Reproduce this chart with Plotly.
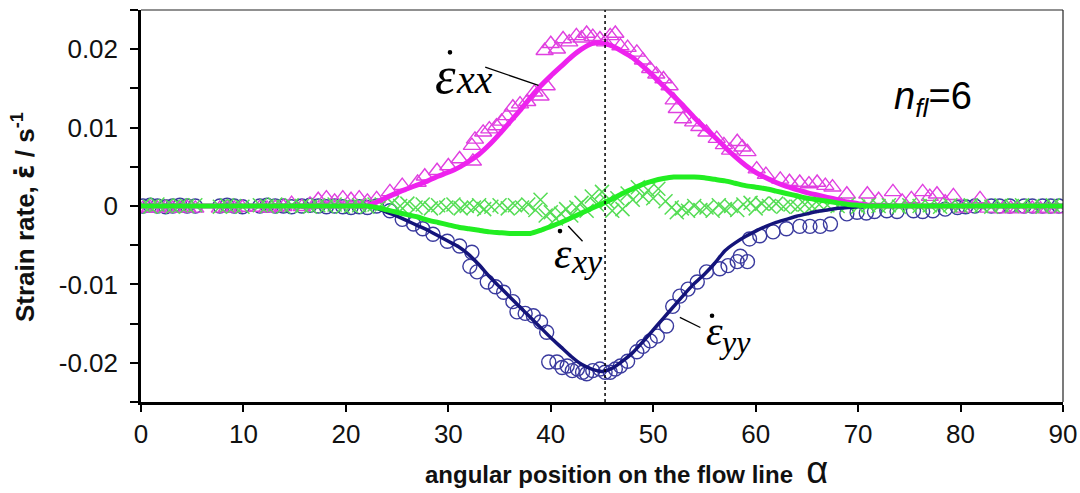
import plotly.graph_objects as go

# ---------------- data ----------------
# measured points (triangles) - strain rate xx
alpha_xx = [0.2, 0.9, 1.6, 2.4, 3.1, 3.8, 4.5, 5.3, 7.7, 8.4, 9.1, 9.9, 11.6, 12.3, 13.1, 13.9,
            14.7, 15.7, 16.5, 17.3, 18.1, 18.9, 19.7, 20.5, 21.3, 22.1,
            23.0, 24.3, 25.5, 27.0, 27.7, 28.9, 30.0, 31.1, 32.3, 32.4, 32.6, 33.4, 34.0, 34.7,
            35.2, 35.7, 36.3, 37.0, 37.7, 38.4, 39.0, 39.6, 39.4, 40.0, 40.6, 41.2, 41.8, 42.5,
            43.0, 43.5, 44.1, 44.8, 45.3, 45.8, 46.3, 46.8, 47.5, 48.4, 49.0, 49.7, 50.3, 51.0,
            51.6, 52.0, 52.3, 52.9, 53.9, 54.5, 55.2, 56.2, 56.9, 57.5, 58.2, 58.7, 59.2, 60.1,
            61.0, 62.4, 63.3, 64.3, 65.2, 66.0, 66.8, 67.5, 68.9, 70.9, 72.0, 73.4, 74.3, 75.2,
            76.3, 77.0, 77.7, 78.5, 79.3, 80.2, 81.9, 82.7, 84.1, 84.9, 85.6, 87.0, 87.8, 88.6, 89.4]
exx_meas = [-0.0003, -0.0002, -0.0003, -0.0002, -0.0003, -0.0003, -0.0002, -0.0003, -0.0003, -0.0002,
            -0.0003, -0.0002, -0.0002, -0.0003, -0.0002, -0.0001, 0.0003, -0.0001, 0.0002, 0.0008,
            0.0010, 0.0006, 0.0010, 0.0008, 0.0010, 0.0006,
            0.0009, 0.0018, 0.0026, 0.0030, 0.0038, 0.0045, 0.0051, 0.0060, 0.0077, 0.0057, 0.0085,
            0.0094, 0.0098, 0.0102, 0.0108, 0.0115, 0.0126, 0.0130, 0.0133, 0.0145, 0.0140, 0.0153,
            0.0198, 0.0207, 0.0200, 0.0213, 0.0209, 0.0217, 0.0214, 0.0220, 0.0216, 0.0213, 0.0209,
            0.0217, 0.0220, 0.0204, 0.0202, 0.0196, 0.0186, 0.0175, 0.0168, 0.0162, 0.0153, 0.0135,
            0.0124, 0.0111, 0.0107, 0.0101, 0.0094, 0.0086, 0.0078, 0.0071, 0.0082, 0.0075, 0.0069,
            0.0047, 0.0040, 0.0034, 0.0031, 0.0030, 0.0028, 0.0030, 0.0026, 0.0024, 0.0015, 0.0015,
            0.0008, 0.0018, 0.0006, 0.0009, 0.0018, 0.0012, 0.0015, 0.0005, 0.0013, -0.0003, 0.0009,
            -0.0003, -0.0004, -0.0003, -0.0004, -0.0003, -0.0004, -0.0003, -0.0004]

# measured points (circles) - strain rate yy
alpha_yy = [0.2, 0.9, 1.6, 2.4, 3.1, 3.8, 4.5, 5.3, 7.7, 8.4, 9.1, 9.9, 11.6, 12.3, 13.1, 13.9,
            14.7, 15.7, 16.5, 17.3, 18.1, 18.9, 19.7, 20.5, 21.3, 22.1,
            23.0, 24.3, 25.5, 26.6, 27.5, 28.5, 29.9, 31.1, 32.3, 32.1, 32.8, 33.8, 34.6, 35.4,
            36.3, 36.7, 37.5, 38.3, 39.0, 39.6, 39.8, 40.6, 41.1, 41.6, 42.1, 42.6, 43.1, 43.5,
            44.1, 44.8, 45.3, 45.8, 46.3, 46.8, 47.5, 48.4, 49.0, 49.7, 50.4, 51.3, 51.9, 52.6,
            53.4, 54.3, 55.2, 56.5, 57.3, 58.2, 58.5, 59.2, 59.4, 60.4, 61.7, 63.0, 64.3, 65.3,
            66.3, 67.3, 68.9, 69.9, 70.8, 71.6, 72.8, 73.8, 75.4, 76.3, 77.3, 78.5, 79.7, 80.5,
            81.4, 83.0, 83.8, 84.8, 86.2, 87.0, 88.0, 88.8, 89.6]
eyy_meas = [0.0000, 0.0001, 0.0000, -0.0001, 0.0000, 0.0001, 0.0000, 0.0000, 0.0000, 0.0001,
            0.0000, -0.0001, 0.0000, 0.0001, 0.0000, 0.0000, -0.0001, 0.0000, 0.0001, 0.0000,
            -0.0001, 0.0000, -0.0001, -0.0002, -0.0001, -0.0002,
            0.0000, -0.0006, -0.0017, -0.0023, -0.0029, -0.0036, -0.0045, -0.0051, -0.0059, -0.0077,
            -0.0084, -0.0097, -0.0103, -0.0110, -0.0122, -0.0135, -0.0137, -0.0140, -0.0148, -0.0161,
            -0.0199, -0.0199, -0.0206, -0.0204, -0.0210, -0.0208, -0.0212, -0.0214, -0.0210, -0.0208,
            -0.0212, -0.0212, -0.0208, -0.0204, -0.0198, -0.0186, -0.0179, -0.0172, -0.0166, -0.0153,
            -0.0128, -0.0115, -0.0106, -0.0097, -0.0084, -0.0080, -0.0076, -0.0071, -0.0064, -0.0071,
            -0.0042, -0.0038, -0.0033, -0.0029, -0.0026, -0.0026, -0.0026, -0.0023, -0.0010, -0.0008,
            -0.0009, -0.0007, -0.0006, -0.0007, -0.0006, -0.0007, -0.0006, -0.0004, -0.0002, -0.0001,
            0.0000, 0.0000, 0.0000, 0.0000, 0.0000, 0.0000, 0.0000, 0.0000, 0.0000]

# measured points (crosses) - strain rate xy
alpha_xy = [0.2, 0.9, 1.6, 2.4, 3.1, 3.8, 4.5, 5.3, 7.7, 8.4, 9.1, 9.9, 11.6, 12.3, 13.1, 13.9,
            14.7, 15.7, 16.5, 17.3, 18.1, 18.9, 19.7, 20.5, 21.3, 22.1, 22.8,
            23.5, 24.5, 25.3, 26.0, 26.8, 27.5, 28.3, 29.0, 29.8, 30.5, 31.2, 31.8, 32.5, 33.0,
            33.5, 34.2, 35.0, 35.8, 36.5, 37.2, 37.8, 38.5, 39.0, 39.5, 40.0, 40.5, 41.0, 41.5,
            42.0, 42.5, 43.0, 43.5, 44.0, 44.5, 45.0, 45.5, 46.0, 46.5, 47.0, 47.5, 48.0, 48.5,
            49.0, 49.5, 50.0, 50.5, 51.2, 51.8, 52.3, 52.8, 53.4, 54.0, 54.6, 55.2, 55.8, 56.4,
            57.0, 57.6, 58.2, 58.8, 59.5, 60.0, 60.6, 61.3, 62.0, 62.7, 63.4, 64.1, 64.8, 65.5,
            66.2, 67.0, 68.0, 69.0, 70.0, 71.0, 72.0, 73.0, 74.0, 75.0, 76.0, 77.0, 78.0, 79.0,
            80.0, 81.0, 82.0, 83.0, 84.0, 85.0, 86.0, 87.0, 88.0, 89.0, 89.8]
exy_meas = [0.0001, -0.0001, 0.0002, 0.0000, -0.0001, 0.0001, 0.0000, 0.0001, -0.0001, 0.0001,
            0.0000, -0.0001, 0.0001, 0.0000, 0.0002, -0.0001, 0.0001, 0.0000, -0.0001, 0.0001,
            0.0000, 0.0002, -0.0001, 0.0000, 0.0001, -0.0001, 0.0002,
            0.0002, 0.0004, 0.0000, 0.0003, -0.0002, 0.0002, -0.0003, 0.0001, -0.0002, 0.0002,
            -0.0003, 0.0000, -0.0002, 0.0001, -0.0004, -0.0001, 0.0001, -0.0003, 0.0001, -0.0002,
            0.0002, -0.0005, 0.0008, -0.0012, -0.0008, -0.0016, -0.0010, -0.0004, -0.0012, -0.0002,
            0.0004, -0.0006, 0.0012, 0.0002, 0.0018, 0.0006, -0.0006, 0.0010, -0.0004, 0.0016,
            0.0008, 0.0024, 0.0012, 0.0020, 0.0010, 0.0022, 0.0006, -0.0002, -0.0008, -0.0003,
            -0.0006, 0.0000, -0.0005, -0.0002, -0.0006, 0.0001, -0.0004, 0.0000, -0.0005, 0.0002,
            0.0004, -0.0003, 0.0003, 0.0000, 0.0003, -0.0001, 0.0002, -0.0001, 0.0002, 0.0000,
            0.0002, 0.0001, 0.0000, 0.0002, -0.0001, 0.0001, 0.0000, 0.0001, -0.0001, 0.0001,
            0.0000, 0.0001, -0.0001, 0.0001, 0.0000, 0.0001, 0.0000, -0.0001, 0.0001, 0.0000,
            0.0001, 0.0000, -0.0001, 0.0001, 0.0000]

# fitted (model) curves, one value per degree 0..90
alpha_fit = list(range(0, 91))
exx_fit = [0.0] * 23 + [0.0005, 0.0011, 0.0017, 0.0022, 0.0027, 0.0032, 0.0038, 0.0043, 0.0049,
                        0.0057, 0.0066, 0.0078, 0.0092, 0.0107, 0.0122, 0.0138, 0.0153, 0.0166,
                        0.0178, 0.0190, 0.0200, 0.0207, 0.0208, 0.0204, 0.0197, 0.0189, 0.0178,
                        0.0166, 0.0153, 0.0140, 0.0127, 0.0113, 0.0100, 0.0088, 0.0075, 0.0063,
                        0.0052, 0.0043, 0.0036, 0.0030, 0.0025, 0.0021, 0.0017, 0.0014, 0.0011,
                        0.0008, 0.0005, 0.0003, 0.0001] + [0.0] * 19
eyy_fit = [0.0] * 23 + [-0.0003, -0.0008, -0.0013, -0.0019, -0.0025, -0.0031, -0.0038, -0.0045,
                        -0.0052, -0.0062, -0.0075, -0.0090, -0.0103, -0.0116, -0.0129, -0.0142,
                        -0.0155, -0.0168, -0.0180, -0.0192, -0.0202, -0.0208, -0.0211, -0.0207,
                        -0.0198, -0.0187, -0.0173, -0.0158, -0.0143, -0.0128, -0.0113, -0.0099,
                        -0.0087, -0.0073, -0.0057, -0.0047, -0.0039, -0.0032, -0.0026, -0.0021,
                        -0.0017, -0.0013, -0.0010, -0.0007, -0.0005, -0.0003, -0.0002, -0.0001] + [0.0] * 20
exy_fit = [0.0] * 23 + [-0.0002, -0.0005, -0.0008, -0.0011, -0.0014, -0.0018, -0.0021, -0.0024,
                        -0.0027, -0.0029, -0.0031, -0.0033, -0.0034, -0.0035, -0.0035, -0.0035,
                        -0.0031, -0.0026, -0.0021, -0.0015, -0.0009, -0.0003, 0.0003, 0.0009,
                        0.0016, 0.0022, 0.0028, 0.0032, 0.0035, 0.0037, 0.0037, 0.0037, 0.0036,
                        0.0034, 0.0032, 0.0029, 0.0026, 0.0024, 0.0022, 0.0019, 0.0016, 0.0013,
                        0.0010, 0.0008, 0.0006, 0.0004, 0.0002, 0.0001] + [0.0] * 20

alpha_sym = 45.3  # symmetry line position
x_ticks = [0, 10, 20, 30, 40, 50, 60, 70, 80, 90]
y_ticks = [-0.02, -0.01, 0, 0.01, 0.02]
y_tick_labels = ["-0.02", "-0.01", "0", "0.01", "0.02"]

# ---------------- figure ----------------
MAG = "#ee22ee"
MAG_M = "#e040e0"
NAVY = "#14147a"
NAVY_M = "#3a3a9e"
GRN = "#22ee22"
GRN_M = "#55dd55"

fig = go.Figure()
fig.add_trace(go.Scatter(x=alpha_yy, y=eyy_meas, mode="markers",
                         marker=dict(symbol="circle-open", size=14, color=NAVY_M, line=dict(width=1.4))))
fig.add_trace(go.Scatter(x=alpha_xx, y=exx_meas, mode="markers",
                         marker=dict(symbol="triangle-up-open", size=15, color=MAG_M, line=dict(width=1.4))))
fig.add_trace(go.Scatter(x=alpha_xy, y=exy_meas, mode="markers",
                         marker=dict(symbol="x-thin-open", size=14, color=GRN_M, line=dict(width=1.5))))
fig.add_trace(go.Scatter(x=alpha_fit, y=eyy_fit, mode="lines",
                         line=dict(color=NAVY, width=3.5, shape="spline", smoothing=0.6)))
fig.add_trace(go.Scatter(x=alpha_fit, y=exx_fit, mode="lines",
                         line=dict(color=MAG, width=5, shape="spline", smoothing=0.6)))
fig.add_trace(go.Scatter(x=alpha_fit, y=exy_fit, mode="lines",
                         line=dict(color=GRN, width=5, shape="spline", smoothing=0.6)))

# symmetry line
fig.add_shape(type="line", xref="x", yref="paper", x0=alpha_sym, x1=alpha_sym, y0=0, y1=1,
              line=dict(color="black", width=1.5, dash="dot"))
# thin top and right frame
fig.add_shape(type="line", xref="paper", yref="paper", x0=0, x1=1, y0=1, y1=1,
              line=dict(color="#222", width=1.2))
fig.add_shape(type="line", xref="paper", yref="paper", x0=1, x1=1, y0=0, y1=1,
              line=dict(color="#222", width=1.2))

# leader lines for labels
leaders = [((33.6, 0.0177), (38.8, 0.0154)),
           ((41.7, -0.00255), (43.1, -0.0045)),
           ((52.6, -0.0142), (54.6, -0.0155))]
for (xa, ya), (xb, yb) in leaders:
    fig.add_shape(type="line", xref="x", yref="y", x0=xa, y0=ya, x1=xb, y1=yb,
                  line=dict(color="black", width=1.3))

SERIF = "Liberation Serif, Times New Roman, serif"
# (epsilon x, epsilon y, eps size, subscript, sub x, sub y, sub size, dot x, dot y)
labels = [(29.77, 0.0167, 52, "xx", 32.6, 0.0161, 40, 30.16, 0.0196),
          (41.2, -0.0060, 44, "xy", 43.5, -0.0071, 34, 40.9, -0.0032),
          (55.94, -0.0160, 42, "yy", 58.0, -0.0174, 32, 55.74, -0.0140)]
for ex, ey, es, sub, sx, sy, ss, dx, dy in labels:
    fig.add_annotation(x=ex, y=ey, xref="x", yref="y", showarrow=False, text="<i>\u03b5</i>",
                       font=dict(family=SERIF, size=es, color="black"))
    fig.add_annotation(x=sx, y=sy, xref="x", yref="y", showarrow=False, text=f"<i>{sub}</i>",
                       font=dict(family=SERIF, size=ss, color="black"))
    fig.add_shape(type="circle", xref="x", yref="y", xsizemode="pixel", ysizemode="pixel",
                  xanchor=dx, yanchor=dy, x0=-2.3, x1=2.3, y0=-2.3, y1=2.3,
                  fillcolor="black", line=dict(width=0))

fig.add_annotation(x=77.3, y=0.01365, xref="x", yref="y", showarrow=False,
                   text="<i>n</i><sub><i>fl</i></sub>=6",
                   font=dict(family="Liberation Sans, Arial, sans-serif", size=38, color="black"))

# axis titles
fig.add_annotation(xref="paper", yref="paper", x=(23 - 141) / 922, y=(402 - 217) / 392,
                   xanchor="center", yanchor="middle", showarrow=False, textangle=-90,
                   text="<b>Strain rate, <span style=\"font-family:DejaVu Sans\">\u03b5\u0307</span> / s<sup>-1</sup></b>",
                   font=dict(family="Liberation Sans, Arial, sans-serif", size=26, color="#111"))
fig.add_annotation(xref="paper", yref="paper", x=(626 - 141) / 922, y=-(470 - 402) / 392,
                   xanchor="center", yanchor="middle", showarrow=False,
                   text="<b>angular position on the flow line</b>  <span style=\"font-size:38px\">α</span>",
                   font=dict(family="Liberation Sans, Arial, sans-serif", size=24, color="#111"))

AX_FONT = dict(family="Liberation Sans, Arial, sans-serif", size=26, color="#111")
fig.update_xaxes(range=[0, 90], tickvals=x_ticks, ticks="outside", ticklen=7, tickwidth=2,
                 tickcolor="black", showline=True, linewidth=2.5, linecolor="black",
                 showgrid=False, zeroline=False, tickfont=AX_FONT)
fig.update_yaxes(range=[-0.025, 0.025], tickvals=y_ticks, ticktext=y_tick_labels,
                 ticks="outside", ticklen=8, tickwidth=2, tickcolor="black", ticklabelstandoff=7,
                 minor=dict(ticks="outside", dtick=0.005, tick0=0, ticklen=8, tickwidth=2,
                            tickcolor="black", showgrid=False),
                 showline=True, linewidth=2.5, linecolor="black",
                 showgrid=False, zeroline=False, tickfont=AX_FONT)

fig.update_layout(width=1080, height=493, margin=dict(l=141, r=17, t=10, b=91, autoexpand=False),
                  paper_bgcolor="white", plot_bgcolor="white", showlegend=False)

fig.write_html("out.html", config={"displayModeBar": False},
               post_script="document.body.style.margin='0';document.body.style.overflow='hidden';")
